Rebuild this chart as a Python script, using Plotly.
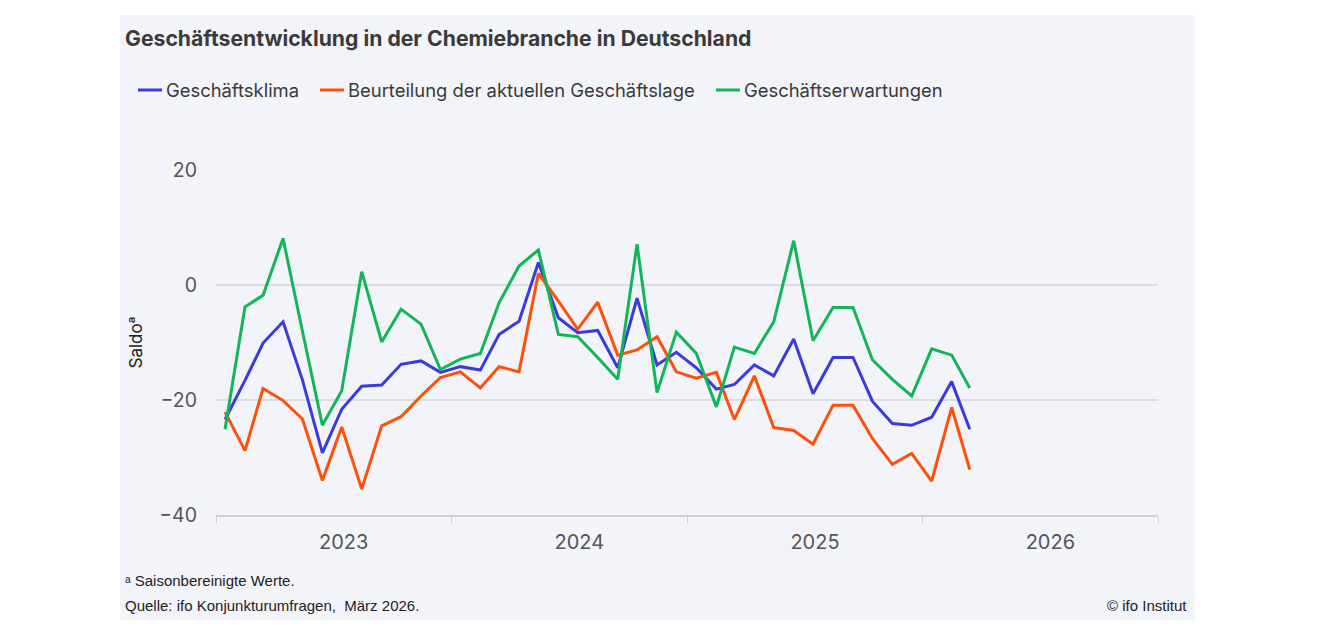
import pandas as pd
import plotly.graph_objects as go

# ---------------- data ----------------
months = pd.date_range("2023-01-01", "2026-03-01", freq="MS") + pd.Timedelta(days=14)

geschaeftsklima = [
    -23.4, -16.6, -10.1, -6.4, -16.5, -29.2, -21.6, -17.6, -17.4, -13.8,
    -13.2, -15.2, -14.2, -14.8, -8.6, -6.3, 3.9, -5.7, -8.3, -7.9,
    -14.4, -2.3, -13.9, -11.7, -14.4, -18.1, -17.3, -13.9, -15.8, -9.4,
    -18.9, -12.6, -12.6, -20.2, -24.1, -24.4, -23.0, -16.8, -25.1,
]
geschaeftslage = [
    -22.1, -28.8, -18.0, -20.1, -23.3, -34.0, -24.7, -35.5, -24.5, -22.9,
    -19.3, -16.1, -15.1, -17.9, -14.2, -15.1, 2.0, -2.8, -7.7, -3.0,
    -12.2, -11.3, -9.0, -15.1, -16.2, -15.2, -23.4, -15.8, -24.8, -25.3,
    -27.7, -20.9, -20.9, -26.7, -31.2, -29.3, -34.1, -21.3, -32.1,
]
geschaeftserwartungen = [
    -25.1, -3.8, -1.8, 8.1, -8.0, -24.4, -18.4, 2.3, -9.9, -4.2,
    -6.8, -14.7, -12.9, -11.9, -3.1, 3.3, 6.1, -8.6, -9.0, -12.6,
    -16.4, 7.1, -18.7, -8.2, -11.9, -21.2, -10.8, -11.9, -6.4, 7.7,
    -9.7, -3.9, -3.9, -13.0, -16.4, -19.3, -11.1, -12.2, -17.9,
]

series_names = ["Geschäftsklima", "Beurteilung der aktuellen Geschäftslage", "Geschäftserwartungen"]
series_values = [geschaeftsklima, geschaeftslage, geschaeftserwartungen]
series_colors = ["#3b3bdc", "#ff4f0a", "#14b45a"]

x_range = ["2023-01-01", "2027-01-01"]
y_ticks = [-40, -20, 0, 20]

# ---------------- layout geometry ----------------
W, H = 1320, 636
L, R, T, B = 216, 1158, 170, 515
pw, ph = R - L, B - T


def px(x):
    return (x - L) / pw


def py(y):
    return (B - y) / ph


FONT = "Inter, Roboto, 'DejaVu Sans', sans-serif"
SMALL = "'Liberation Sans', Arial, sans-serif"
TEXT = "#3a3a3a"
AXTXT = "#555555"
PANEL = "#f3f4f9"

fig = go.Figure()
for name, vals, col in zip(series_names, series_values, series_colors):
    fig.add_trace(go.Scatter(
        x=months, y=vals, name=name, mode="lines",
        line=dict(color=col, width=3), showlegend=False,
    ))

shapes = [
    dict(type="rect", xref="paper", yref="paper", layer="below",
         x0=px(120), x1=px(1195), y0=py(620), y1=py(15),
         fillcolor=PANEL, line=dict(width=0)),
]
annotations = [
    dict(text="<b>Geschäftsentwicklung in der Chemiebranche in Deutschland</b>",
         xref="paper", yref="paper", x=px(123), y=py(38), xanchor="left", yanchor="middle",
         showarrow=False, font=dict(family=FONT, size=21.2, color=TEXT)),
    dict(text="ᵃ Saisonbereinigte Werte.",
         xref="paper", yref="paper", x=px(123), y=py(580), xanchor="left", yanchor="middle",
         showarrow=False, font=dict(family=SMALL, size=15, color="#222222")),
    dict(text="Quelle: ifo Konjunkturumfragen,\u00a0 März 2026.",
         xref="paper", yref="paper", x=px(123), y=py(605), xanchor="left", yanchor="middle",
         showarrow=False, font=dict(family=SMALL, size=15, color="#222222")),
    dict(text="© ifo Institut",
         xref="paper", yref="paper", x=px(1189), y=py(605), xanchor="right", yanchor="middle",
         showarrow=False, font=dict(family=SMALL, size=15, color="#222222")),
]

# manual legend
legend_line_x = [138, 320, 716]
for name, col, lx in zip(series_names, series_colors, legend_line_x):
    shapes.append(dict(type="line", xref="paper", yref="paper",
                       x0=px(lx), x1=px(lx + 24), y0=py(90), y1=py(90),
                       line=dict(color=col, width=3)))
    annotations.append(dict(text=name, xref="paper", yref="paper",
                            x=px(lx + 26), y=py(90), xanchor="left", yanchor="middle",
                            showarrow=False, font=dict(family=FONT, size=18.4, color=TEXT)))

fig.update_layout(
    width=W, height=H,
    margin=dict(l=L, r=W - R, t=T, b=H - B, pad=0),
    paper_bgcolor="white",
    plot_bgcolor="rgba(0,0,0,0)",
    shapes=shapes,
    annotations=annotations,
    font=dict(family=FONT, color=AXTXT),
)
fig.update_xaxes(
    type="date",
    range=x_range,
    tick0="2023-01-01", dtick="M12",
    ticklabelmode="period",
    tickformat="%Y",
    showgrid=False,
    showline=True, linecolor="#cfd0d6", linewidth=1.5,
    ticks="outside", ticklen=6, tickcolor="#cfd0d6", tickwidth=1,
    tickfont=dict(family=FONT, size=20, color=AXTXT),
    ticklabelstandoff=2,
    ticklabelshift=10,
)
fig.update_yaxes(
    range=[-40, 20],
    tickvals=y_ticks,
    showgrid=True, gridcolor="#dcdde3", gridwidth=1.5,
    zeroline=False, showline=False,
    tickfont=dict(family=FONT, size=19.5, color=AXTXT),
    ticklabelstandoff=18,
    title=dict(text="Saldoᵃ", font=dict(family=FONT, size=17, color="#222222"), standoff=12),
)

fig.write_html("out.html")
